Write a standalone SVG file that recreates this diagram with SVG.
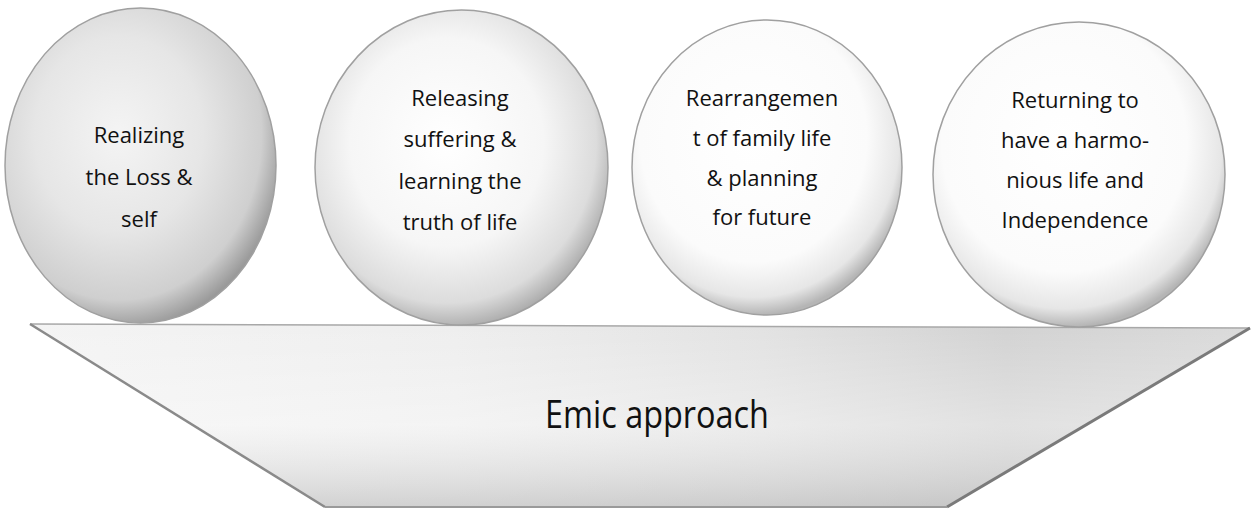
<svg xmlns="http://www.w3.org/2000/svg" width="1252" height="509" viewBox="0 0 1252 509">
<defs>
<radialGradient id="sph" cx="0.45" cy="0.42" r="0.6">
<stop offset="0" stop-color="#ffffff"/>
<stop offset="0.55" stop-color="#f6f6f6"/>
<stop offset="0.85" stop-color="#dcdcdc"/>
<stop offset="1" stop-color="#a8a8a8"/>
</radialGradient>
<radialGradient id="sph1" cx="0.42" cy="0.4" r="0.62">
<stop offset="0" stop-color="#f4f4f4"/>
<stop offset="0.5" stop-color="#e6e6e6"/>
<stop offset="0.85" stop-color="#cfcfcf"/>
<stop offset="1" stop-color="#9a9a9a"/>
</radialGradient>
<radialGradient id="sph3" cx="0.45" cy="0.4" r="0.6">
<stop offset="0" stop-color="#ffffff"/>
<stop offset="0.7" stop-color="#fbfbfb"/>
<stop offset="0.9" stop-color="#e6e6e6"/>
<stop offset="1" stop-color="#b5b5b5"/>
</radialGradient>
<linearGradient id="plat" x1="0" y1="0" x2="1" y2="0">
<stop offset="0" stop-color="#f4f4f4"/>
<stop offset="0.35" stop-color="#eeeeee"/>
<stop offset="0.6" stop-color="#e2e2e2"/>
<stop offset="0.8" stop-color="#d2d2d2"/>
<stop offset="1" stop-color="#dadada"/>
</linearGradient>
<linearGradient id="platv" x1="0" y1="0" x2="0" y2="1">
<stop offset="0" stop-color="#ffffff" stop-opacity="0"/>
<stop offset="0.55" stop-color="#ffffff" stop-opacity="0.35"/>
<stop offset="1" stop-color="#bdbdbd" stop-opacity="0.6"/>
</linearGradient>
</defs>
<style>
.sphere{stroke:#a0a0a0;stroke-width:1.5}
.lbl{font-family:"Open Sans","Noto Sans","DejaVu Sans",sans-serif;font-size:22px;fill:#111;text-anchor:middle}
.big{font-family:"Open Sans","Noto Sans","DejaVu Sans",sans-serif;font-size:39px;fill:#111;text-anchor:middle}
</style>
<rect width="1252" height="509" fill="#ffffff"/>

<g id="platform">
<polygon points="30,324 1250,328 947,507 325,507" fill="url(#plat)"/>
<polygon points="30,324 1250,328 947,507 325,507" fill="url(#platv)"/>
<line x1="30" y1="324" x2="1250" y2="328" stroke="#a8a8a8" stroke-width="1.5"/>
<line x1="30" y1="324" x2="325" y2="507" stroke="#8a8a8a" stroke-width="2.5"/>
<line x1="1250" y1="328" x2="947" y2="507" stroke="#7a7a7a" stroke-width="3"/>
<line x1="325" y1="507" x2="947" y2="507" stroke="#9a9a9a" stroke-width="2"/>
<text class="big" x="657" y="428" textLength="224" lengthAdjust="spacingAndGlyphs">Emic approach</text>
</g>

<g id="node1">
<ellipse class="sphere" cx="140.5" cy="165.5" rx="135.5" ry="157.5" fill="url(#sph1)"/>
<text class="lbl" x="139" y="143">Realizing</text>
<text class="lbl" x="139" y="185">the Loss &amp;</text>
<text class="lbl" x="139" y="227">self</text>
</g>

<g id="node2">
<ellipse class="sphere" cx="461.5" cy="167.5" rx="146.5" ry="157.5" fill="url(#sph)"/>
<text class="lbl" x="460" y="106">Releasing</text>
<text class="lbl" x="460" y="147">suffering &amp;</text>
<text class="lbl" x="460" y="189">learning the</text>
<text class="lbl" x="460" y="230">truth of life</text>
</g>

<g id="node3">
<ellipse class="sphere" cx="767" cy="167.5" rx="135" ry="147.5" fill="url(#sph3)"/>
<text class="lbl" x="762" y="106">Rearrangemen</text>
<text class="lbl" x="762" y="146">t of family life</text>
<text class="lbl" x="762" y="186">&amp;  planning</text>
<text class="lbl" x="762" y="225">for future</text>
</g>

<g id="node4">
<ellipse class="sphere" cx="1079" cy="174.5" rx="146" ry="152.5" fill="url(#sph3)"/>
<text class="lbl" x="1075" y="108">Returning to</text>
<text class="lbl" x="1075" y="148">have a harmo-</text>
<text class="lbl" x="1075" y="188">nious life and</text>
<text class="lbl" x="1075" y="228">Independence</text>
</g>
</svg>
